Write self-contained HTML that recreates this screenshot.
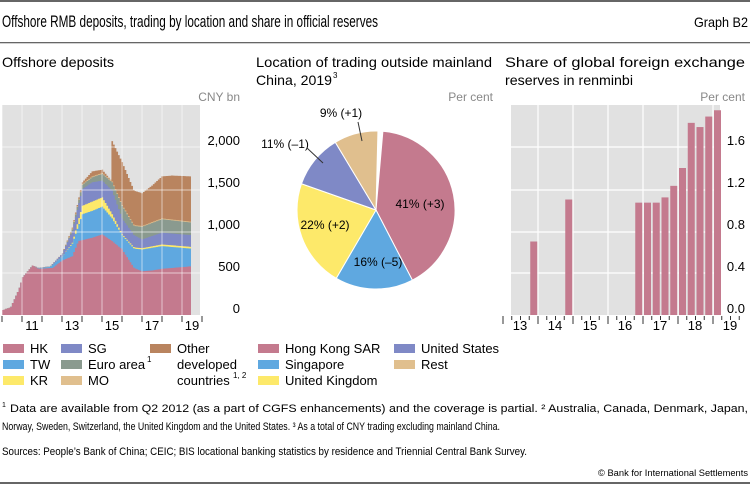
<!DOCTYPE html><html><head><meta charset="utf-8"><style>body{margin:0;background:#fff}svg{display:block}text{font-family:"Liberation Sans",sans-serif;fill:#000}</style></head><body>
<svg id="s" width="750" height="485" xmlns="http://www.w3.org/2000/svg">
<rect x="0" y="0" width="750" height="2" fill="#666"/>
<rect x="0" y="42" width="750" height="1.3" fill="#666"/>
<rect x="0" y="482" width="750" height="2" fill="#666"/>
<text x="2" y="27" font-size="17" textLength="376" lengthAdjust="spacingAndGlyphs">Offshore RMB deposits, trading by location and share in official reserves</text>
<text x="748" y="27" font-size="14" text-anchor="end" textLength="54" lengthAdjust="spacingAndGlyphs">Graph B2</text>
<text x="2" y="67" font-size="14" textLength="112" lengthAdjust="spacingAndGlyphs">Offshore deposits</text>
<text x="256" y="67" font-size="14" textLength="236" lengthAdjust="spacingAndGlyphs">Location of trading outside mainland</text>
<text x="256" y="85" font-size="14" textLength="76" lengthAdjust="spacingAndGlyphs">China, 2019</text><text x="333" y="78" font-size="8">3</text>
<text x="505" y="67" font-size="14" textLength="240" lengthAdjust="spacingAndGlyphs">Share of global foreign exchange</text>
<text x="505" y="85" font-size="14" textLength="128" lengthAdjust="spacingAndGlyphs">reserves in renminbi</text>
<g font-size="12" fill="#888"><text x="240" y="101" text-anchor="end" style="fill:#888">CNY bn</text><text x="493" y="101" text-anchor="end" style="fill:#888">Per cent</text><text x="745" y="101" text-anchor="end" style="fill:#888">Per cent</text></g>
<rect x="2" y="105" width="198" height="210" fill="#e1e1e1"/>
<rect x="511" y="105" width="209" height="210" fill="#e1e1e1"/>
<g id="left"></g><g id="right"></g>
<g font-size="13" text-anchor="end">
<text x="240" y="145">2,000</text><text x="240" y="187">1,500</text><text x="240" y="229">1,000</text><text x="240" y="271">500</text><text x="240" y="313">0</text>
<text x="745" y="145">1.6</text><text x="745" y="187">1.2</text><text x="745" y="229">0.8</text><text x="745" y="271">0.4</text><text x="745" y="313">0.0</text>
</g>
<g font-size="13" text-anchor="middle">
<text x="32" y="330">11</text><text x="72" y="330">13</text><text x="112" y="330">15</text><text x="152" y="330">17</text><text x="192" y="330">19</text>
<text x="520" y="330">13</text><text x="555" y="330">14</text><text x="590" y="330">15</text><text x="625" y="330">16</text><text x="660" y="330">17</text><text x="695" y="330">18</text><text x="730" y="330">19</text>
</g>
<g id="pie"></g>
<g font-size="12">
<text x="420" y="208" text-anchor="middle">41% (+3)</text>
<text x="378" y="266" text-anchor="middle">16% (–5)</text>
<text x="325" y="229" text-anchor="middle">22% (+2)</text>
<text x="341" y="117" text-anchor="middle">9% (+1)</text>
<text x="285" y="148" text-anchor="middle">11% (–1)</text>
</g>
<line x1="358" y1="122" x2="362" y2="141" stroke="#333" stroke-width="1"/>
<line x1="307" y1="148" x2="323" y2="163" stroke="#333" stroke-width="1"/>
<g font-size="13">
<rect x="3" y="344" width="21" height="9" fill="#c47a8e"/><text x="30" y="353">HK</text>
<rect x="3" y="360" width="21" height="9" fill="#5fa8e0"/><text x="30" y="369">TW</text>
<rect x="3" y="376" width="21" height="9" fill="#fde96a"/><text x="30" y="385">KR</text>
<rect x="61" y="344" width="21" height="9" fill="#7f89c6"/><text x="88" y="353">SG</text>
<rect x="61" y="360" width="21" height="9" fill="#8a9a8f"/><text x="88" y="369">Euro area</text><text x="147" y="362" font-size="8">1</text>
<rect x="61" y="376" width="21" height="9" fill="#e0bf8e"/><text x="88" y="385">MO</text>
<rect x="150" y="344" width="21" height="9" fill="#b9845f"/><text x="177" y="353">Other</text>
<text x="177" y="369">developed</text><text x="177" y="385">countries</text><text x="233" y="378" font-size="8">1, 2</text>
<rect x="258" y="344" width="21" height="9" fill="#c47a8e"/><text x="285" y="353">Hong Kong SAR</text>
<rect x="258" y="360" width="21" height="9" fill="#5fa8e0"/><text x="285" y="369">Singapore</text>
<rect x="258" y="376" width="21" height="9" fill="#fde96a"/><text x="285" y="385">United Kingdom</text>
<rect x="394" y="344" width="21" height="9" fill="#7f89c6"/><text x="421" y="353">United States</text>
<rect x="394" y="360" width="21" height="9" fill="#e0bf8e"/><text x="421" y="369">Rest</text>
</g>
<g font-size="11">
<text x="2" y="407" font-size="7">1</text><text x="10" y="412" textLength="738" lengthAdjust="spacingAndGlyphs">Data are available from Q2 2012 (as a part of CGFS enhancements) and the coverage is partial.   ² Australia, Canada, Denmark, Japan,</text>
<text x="2" y="430" textLength="498" lengthAdjust="spacingAndGlyphs">Norway, Sweden, Switzerland, the United Kingdom and the United States.   ³ As a total of CNY trading excluding mainland China.</text>
<text x="2" y="455" textLength="525" lengthAdjust="spacingAndGlyphs">Sources: People’s Bank of China; CEIC; BIS locational banking statistics by residence and Triennial Central Bank Survey.</text>
<text x="748" y="476" font-size="9" text-anchor="end" textLength="150" lengthAdjust="spacingAndGlyphs">© Bank for International Settlements</text>
</g>
</svg>
<script>
var NS="http://www.w3.org/2000/svg";
function el(p,t,a){var e=document.createElementNS(NS,t);for(var k in a)e.setAttribute(k,a[k]);p.appendChild(e);return e;}
function interp(pts,t){if(t<=pts[0][0])return pts[0][1];for(var i=1;i<pts.length;i++){if(t<=pts[i][0]){var a=pts[i-1],b=pts[i];return a[1]+(b[1]-a[1])*(t-a[0])/(b[0]-a[0]);}}return pts[pts.length-1][1];}
var L=document.getElementById('left');
var layers=[
["#c47a8e",[[0,60],[0.4,90],[0.8,300],[1.0,450],[1.5,590],[1.8,550],[2.5,560],[3.0,650],[3.5,700],[3.8,880],[4.5,920],[5.0,960],[5.5,880],[6.0,780],[6.6,560],[7.0,520],[7.5,530],[8.0,550],[8.5,560],[9.5,580]]],
["#5fa8e0",[[0,60],[0.4,90],[0.8,300],[1.0,450],[1.5,590],[1.8,555],[2.4,575],[3.0,700],[3.5,850],[4.0,1200],[4.5,1240],[5.0,1290],[5.5,1150],[6.0,950],[6.6,790],[7.0,780],[8.0,820],[9.5,790]]],
["#fde96a",[[0,60],[0.4,90],[0.8,300],[1.0,450],[1.5,590],[1.8,555],[2.4,575],[3.0,700],[3.5,860],[4.0,1300],[4.5,1350],[5.0,1400],[5.5,1200],[6.0,960],[6.6,805],[7.0,795],[8.0,840],[9.5,810]]],
["#7f89c6",[[0,60],[0.4,90],[0.8,300],[1.0,450],[1.5,590],[1.8,560],[2.4,580],[3.0,730],[3.5,1000],[4.0,1500],[4.5,1580],[5.0,1600],[5.5,1480],[6.0,1150],[6.6,950],[7.0,900],[8.0,980],[9.5,950]]],
["#8a9a8f",[[0,60],[0.4,90],[0.8,300],[1.0,450],[1.5,590],[1.8,560],[2.4,580],[3.0,730],[3.5,1020],[4.0,1550],[4.5,1640],[5.0,1680],[5.5,1580],[6.0,1300],[6.6,1060],[7.0,1050],[8.0,1140],[9.5,1100]]],
["#e0bf8e",[[0,60],[0.4,90],[0.8,300],[1.0,450],[1.5,590],[1.8,560],[2.4,580],[3.0,730],[3.5,1030],[4.0,1560],[4.5,1650],[5.0,1690],[5.5,1590],[6.0,1310],[6.6,1070],[7.0,1060],[8.0,1150],[9.5,1110]]],
["#b9845f",[[0,60],[0.4,90],[0.8,300],[1.0,450],[1.5,590],[1.8,560],[2.4,580],[3.0,735],[3.5,1040],[4.0,1580],[4.5,1710],[5.0,1730],[5.45,1600],[5.5,2070],[6.0,1820],[6.6,1480],[7.0,1450],[7.5,1540],[8.0,1650],[8.5,1660],[9.5,1650]]]];
var N=114,w=189/N;
for(var l=layers.length-1;l>=0;l--){var d="M2,315";for(var i=0;i<N;i++){var t=i/12;var v=interp(layers[l][1],t);var y=315-v*42/500;var x=2+i*w;d+=" L"+x.toFixed(2)+","+y.toFixed(2)+" L"+(x+w).toFixed(2)+","+y.toFixed(2);}d+=" L"+(2+N*w).toFixed(2)+",315 Z";el(L,"path",{d:d,fill:layers[l][0]});}
[147,190,232,273].forEach(function(y){el(L,"line",{x1:2,x2:200,y1:y,y2:y,stroke:"#fff","stroke-width":0.8,opacity:0.8});el(document.getElementById('right'),"line",{x1:511,x2:720,y1:y,y2:y,stroke:"#fff","stroke-width":1.2});});
for(var k=0;k<=10;k++){var x=2+k*20;el(L,"line",{x1:x,x2:x,y1:105,y2:315,stroke:"#fff","stroke-width":0.8,opacity:0.7});el(L,"line",{x1:x,x2:x,y1:316,y2:322,stroke:"#333","stroke-width":1});}
var R=document.getElementById('right');
for(var k=0;k<6;k++){var x=538+k*35;el(R,"line",{x1:x,x2:x,y1:105,y2:315,stroke:"#fff","stroke-width":1.2});}
for(var q=0;q<28;q++){var x=503+q*8.75;var big=(q%4==0);el(R,"line",{x1:x,x2:x,y1:316,y2:big?324:320,stroke:"#333","stroke-width":1});}
var bars=[[3,0.70],[7,1.10],[15,1.07],[16,1.07],[17,1.07],[18,1.12],[19,1.23],[20,1.40],[21,1.83],[22,1.79],[23,1.89],[24,1.95]];
bars.forEach(function(b){var x=503+b[0]*8.75+1;var h=b[1]*105;el(R,"rect",{x:x,y:315-h,width:7,height:h,fill:"#c47a8e"});});
var P=document.getElementById('pie');var cx=376,cy=210,r=79;
var sl=[[41,"#c47a8e"],[16,"#5fa8e0"],[22,"#fde96a"],[11,"#7f89c6"],[9,"#e0bf8e"]];var a=5;
sl.forEach(function(s){var a2=a+s[0]*3.6;function pt(an){var rad=(an-90)*Math.PI/180;return (cx+r*Math.cos(rad)).toFixed(2)+","+(cy+r*Math.sin(rad)).toFixed(2);}
el(P,"path",{d:"M"+cx+","+cy+" L"+pt(a)+" A"+r+","+r+" 0 "+(s[0]>50?1:0)+",1 "+pt(a2)+" Z",fill:s[1],stroke:"#fff","stroke-width":1});a=a2;});
</script>
</body></html>
